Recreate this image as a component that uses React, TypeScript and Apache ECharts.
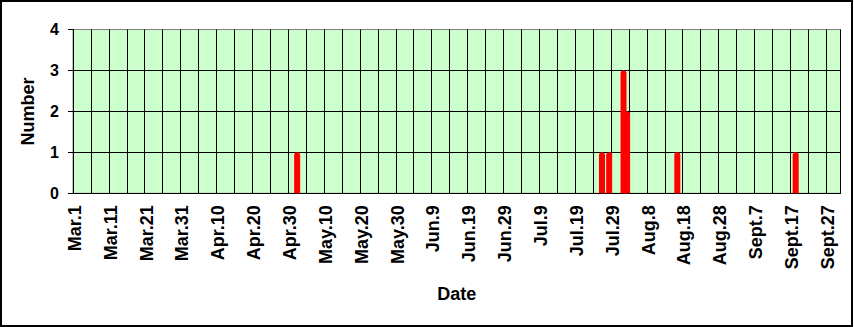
import React, { useEffect, useRef } from "react";
import * as echarts from "echarts";

// Months covered by the axis (one category per day, Mar.1 .. Sept.30)
const monthNames = ["Mar", "Apr", "May", "Jun", "Jul", "Aug", "Sept"];
const monthLengths = [31, 30, 31, 30, 31, 31, 30];

// Days with observations and their counts
const eventDates = ["May.2", "Jul.26", "Jul.28", "Aug.1", "Aug.2", "Aug.16", "Sept.18"];
const eventCounts = [1, 1, 1, 3, 2, 1, 1];

const yTicks = [0, 1, 2, 3, 4];

const categories: string[] = [];
monthNames.forEach((m, i) => {
  for (let d = 1; d <= monthLengths[i]; d++) categories.push(m + "." + d);
});

const FONT = "'Liberation Sans', Arial, sans-serif";

export default function App() {
  const ref = useRef<HTMLDivElement>(null);
  useEffect(() => {
    if (!ref.current) return;
    const chart = echarts.init(ref.current, undefined, { renderer: "svg" });
    chart.setOption({
      animation: false,
      backgroundColor: "#ffffff",
      graphic: [
        {
          type: "rect",
          shape: { x: 1, y: 1, width: 851, height: 325 },
          style: { fill: "none", stroke: "#000000", lineWidth: 2 },
          z: 100,
        },
      ],
      grid: {
        left: 73,
        right: 13.5,
        top: 29.5,
        bottom: 133.7,
        show: true,
        backgroundColor: "#CCFFCC",
        borderColor: "#808080",
        borderWidth: 1,
      },
      xAxis: {
        type: "category",
        data: categories,
        boundaryGap: true,
        name: "Date",
        nameLocation: "middle",
        nameGap: 92,
        nameTextStyle: { fontFamily: FONT, fontWeight: "bold", fontSize: 18, color: "#000" },
        axisLine: { show: true, lineStyle: { color: "#000", width: 1 } },
        axisTick: { show: false, interval: 4 },
        axisLabel: {
          interval: 9,
          rotate: 90,
          margin: 12,
          fontFamily: FONT,
          fontWeight: "bold",
          fontSize: 18,
          color: "#000",
        },
        splitLine: { show: true, interval: 4, lineStyle: { color: "#000", width: 1 } },
      },
      yAxis: {
        type: "value",
        min: 0,
        max: 4,
        interval: 1,
        name: "Number",
        nameLocation: "middle",
        nameGap: 36,
        nameTextStyle: { fontFamily: FONT, fontWeight: "bold", fontSize: 18, color: "#000" },
        axisLine: { show: true, lineStyle: { color: "#000", width: 1 } },
        axisTick: { show: true, length: 5, lineStyle: { color: "#000" } },
        axisLabel: {
          margin: 14,
          fontFamily: FONT,
          fontWeight: "bold",
          fontSize: 16,
          color: "#000",
          formatter: (v: number) => (yTicks.includes(v) ? String(v) : ""),
        },
        splitLine: {
          show: true,
          lineStyle: { color: ["#000", "#000", "#000", "#000", "#808080"], width: 1 },
        },
      },
      series: [
        {
          type: "bar",
          barWidth: 6,
          data: eventDates.map((d, i) => [d, eventCounts[i]]),
          itemStyle: { color: "#FF0000", borderRadius: [3, 3, 0, 0] },
        },
      ],
    });
    return () => chart.dispose();
  }, []);
  return (
    <div
      ref={ref}
      style={{ position: "absolute", left: 0, top: 0, width: 854, height: 327 }}
    />
  );
}
